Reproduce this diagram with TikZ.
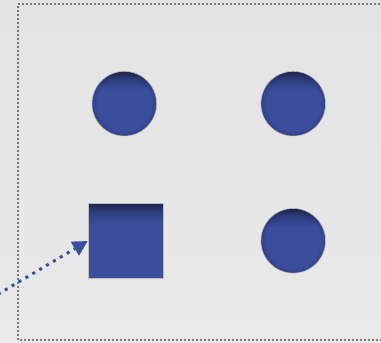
\documentclass[tikz,border=0pt]{standalone}
\usetikzlibrary{arrows.meta,fadings}
\definecolor{bgtop}{HTML}{E3E3E3}
\definecolor{bgbot}{HTML}{E9E9E9}
\definecolor{holeblue}{HTML}{3B4E9C}
\definecolor{holemid}{HTML}{2C3A78}
\definecolor{holedark}{HTML}{1E244C}
\definecolor{dotgray}{HTML}{7A7A7A}
\pgfdeclareverticalshading{inset}{100bp}{color(0bp)=(holeblue); color(61bp)=(holeblue); color(70bp)=(holemid); color(75bp)=(holedark); color(100bp)=(holedark)}
\pgfdeclareradialshading{rimshade}{\pgfpointorigin}{color(0bp)=(transparent!100); color(21bp)=(transparent!100); color(25bp)=(transparent!72); color(50bp)=(transparent!72)}
\pgfdeclarefading{rimfade}{\pgfuseshading{rimshade}}
\tikzset{
  hole/.style={shading=inset, draw=gray!50, line width=0.6pt, inner sep=0pt},
  roundhole/.style={hole, circle, minimum size=64.6pt},
  squarehole/.style={hole, rectangle, minimum width=75.3pt, minimum height=75.4pt},
  rim/.style={fill=holedark, path fading=rimfade, fit fading=true},
  frame/.style={draw=dotgray, line width=2pt, dash pattern=on 2pt off 2pt},
  pointer/.style={draw=holeblue, line width=3pt, dash pattern=on 3pt off 5pt,
    -{Triangle[length=15pt,width=15.5pt,fill=holeblue]}}
}
\begin{document}
\begin{tikzpicture}[x=1pt,y=-1pt]
\useasboundingbox (0,0) rectangle (381,343);
\shade[top color=bgtop, bottom color=bgbot] (0,0) rectangle (381,343);
\draw[frame] (392,4) -- (18,4) -- (18,340) -- (392,340);
\node[roundhole] (c1) at (124.3,103.7) {};
\node[roundhole] (c2) at (293.2,103.7) {};
\node[roundhole] (c3) at (293.2,240.8) {};
\fill[rim] (c1.center) circle (32pt);
\fill[rim] (c2.center) circle (32pt);
\fill[rim] (c3.center) circle (32pt);
\node[squarehole] (sq) at (125.7,241) {};
\coordinate (src) at (-2,294.2);
\draw[pointer] (src) -- (sq.west);
\end{tikzpicture}
\end{document}
